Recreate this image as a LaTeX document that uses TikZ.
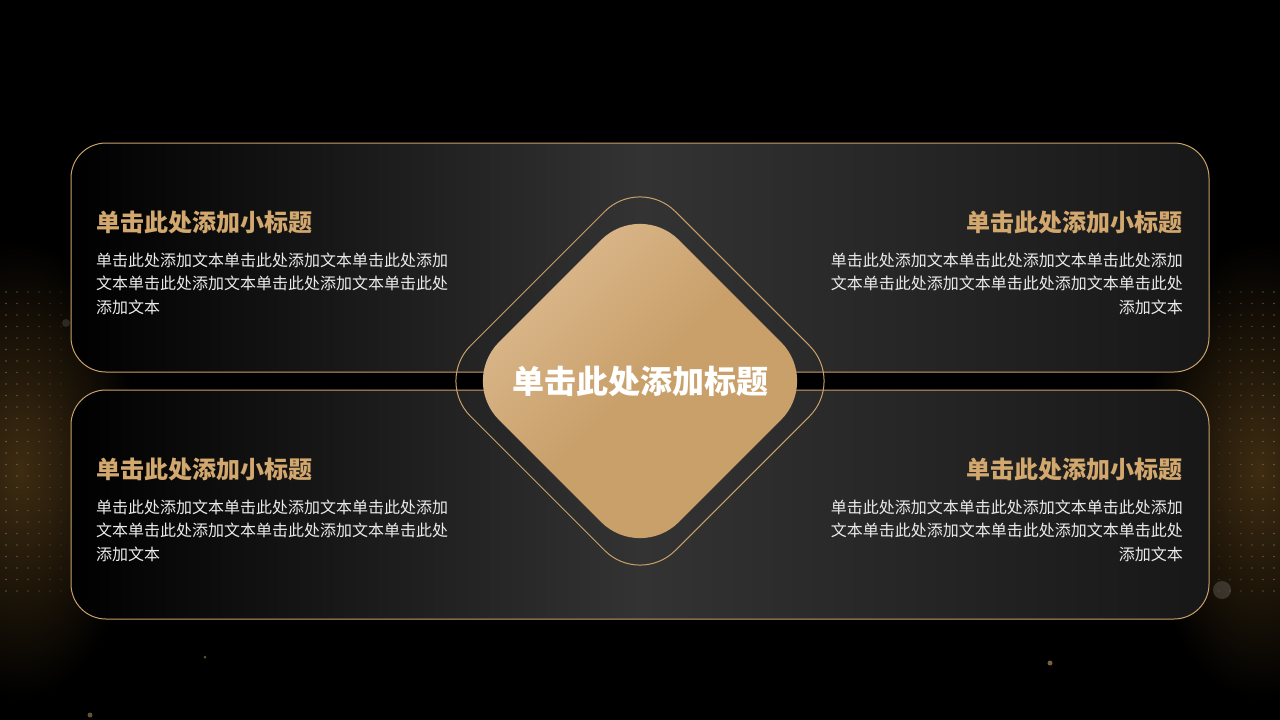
\documentclass[tikz,border=0pt]{standalone}
\usepackage{fontspec}
\setmainfont{Noto Sans CJK SC}
\usepackage{tikz}
\usetikzlibrary{shapes.geometric}
\definecolor{gold}{HTML}{C9A06A}
\definecolor{goldtext}{HTML}{D3A86E}
\definecolor{goldlight}{HTML}{DDBB92}
\definecolor{boxmid}{HTML}{333333}
\definecolor{boxright}{HTML}{171717}
\definecolor{glow}{HTML}{3E2C12}
\tikzset{
    %Define style for boxes
    panel/.style={
           rectangle,
           rounded corners=35pt,
           draw=gold, line width=1pt,
           minimum width=1138pt,
           minimum height=229pt,
           left color=black, right color=boxright,
           middle color=boxmid},
    %Define style for the diamonds
    ring/.style={
           diamond, aspect=1,
           rounded corners=50pt,
           draw=gold, line width=1pt,
           inner sep=0pt,
           minimum width=410pt,
           minimum height=410pt},
    core/.style={
           diamond, aspect=1,
           rounded corners=55pt,
           inner sep=0pt,
           minimum width=360pt,
           minimum height=360pt,
           top color=goldlight, bottom color=gold,
           middle color=gold, shading angle=45,
           text=white,
           font=\fontsize{32}{36}\selectfont\bfseries},
    %Define style for texts
    head/.style={
           inner sep=0pt,
           text=goldtext,
           font=\fontsize{24}{28}\selectfont\bfseries},
    body/.style={
           inner sep=0pt,
           text=white!92!black,
           text width=360pt,
           font=\fontsize{16}{23.5}\selectfont},
    dot/.style={fill=gold}
}

\begin{document}
\begin{tikzpicture}[x=1pt,y=-1pt]
\useasboundingbox (0,0) rectangle (1280,720);
\fill[black] (0,0) rectangle (1280,720);
% background glow
\shade[inner color=glow, outer color=black] (20,470) ellipse (120 and 230);
\shade[inner color=glow, outer color=black] (1260,470) ellipse (120 and 230);
\foreach \i in {0,...,5}
  \foreach \j in {0,...,26}
  {
    \fill[dot, opacity={0.45-0.06*\i}] ({6+\i*11},{292+\j*11.5}) circle (0.9);
    \fill[dot, opacity={0.45-0.06*\i}] ({1274-\i*11},{292+\j*11.5}) circle (0.9);
  }
\fill[white, opacity=0.15] (1222,590) circle (9);
\fill[gold, opacity=0.6] (1050,663) circle (2.5);
\fill[gold, opacity=0.5] (205,657) circle (1.5);
\fill[gold, opacity=0.5] (90,715) circle (2.5);
\fill[white, opacity=0.12] (66,323) circle (4);
% panels
\node[panel] (top) at (640,257.5) {};
\node[panel] (bottom) at (640,504.5) {};
% center
\node[ring] (ring) at (640,381) {};
\node[core] (title) at (640,381) {单击此处添加标题};
% texts
\node[head, anchor=base west] (h1) at (96,231) {单击此处添加小标题};
\node[body, align=left, anchor=base west] (t1) at (96,266)
  {单击此处添加文本单击此处添加文本单击此处添加\\文本单击此处添加文本单击此处添加文本单击此处\\添加文本};
\node[head, anchor=base east] (h2) at (1183,231) {单击此处添加小标题};
\node[body, align=right, anchor=base east] (t2) at (1183,266)
  {单击此处添加文本单击此处添加文本单击此处添加\\文本单击此处添加文本单击此处添加文本单击此处\\添加文本};
\node[head, anchor=base west] (h3) at (96,478) {单击此处添加小标题};
\node[body, align=left, anchor=base west] (t3) at (96,513)
  {单击此处添加文本单击此处添加文本单击此处添加\\文本单击此处添加文本单击此处添加文本单击此处\\添加文本};
\node[head, anchor=base east] (h4) at (1183,478) {单击此处添加小标题};
\node[body, align=right, anchor=base east] (t4) at (1183,513)
  {单击此处添加文本单击此处添加文本单击此处添加\\文本单击此处添加文本单击此处添加文本单击此处\\添加文本};
\end{tikzpicture}
\end{document}
